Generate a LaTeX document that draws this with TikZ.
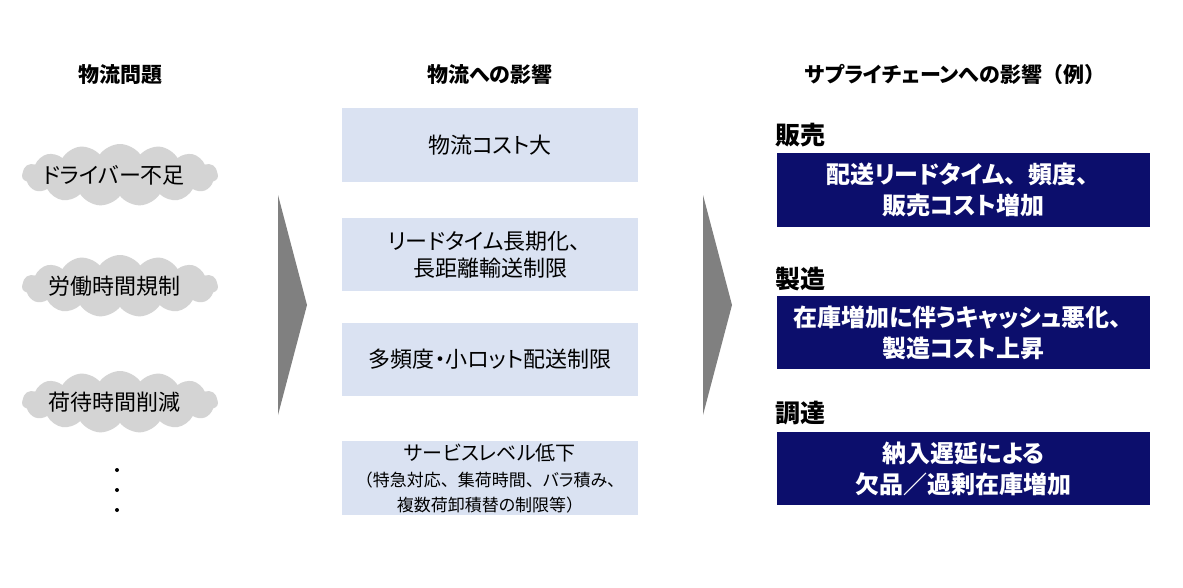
\documentclass[tikz,border=0pt]{standalone}
\usepackage{fontspec}
\setmainfont[RawFeature=+palt]{Noto Sans CJK JP}
\newfontfamily\jpfull{Noto Sans CJK JP}
\newcommand{\jtn}{{\jpfull 、}}
\newcommand{\jlp}{{\jpfull （}}
\newcommand{\jrp}{{\jpfull ）}}
\usetikzlibrary{shapes.symbols}
\definecolor{navybox}{RGB}{12,14,108}
\definecolor{lightbox}{RGB}{218,226,242}
\definecolor{cloudgray}{RGB}{212,212,212}
\definecolor{arrowgray}{RGB}{128,128,128}
\begin{document}
\begin{tikzpicture}[x=1pt,y=-1pt,
  header/.style={font=\bfseries\fontsize{21}{25}\selectfont, inner sep=0pt},
  cloudshape/.style={cloud, cloud puffs=15, cloud puff arc=110, aspect=3.2,
    fill=cloudgray, draw=none, minimum width=196pt, minimum height=62pt,
    inner sep=0pt},
  cloudtext/.style={inner sep=0pt, font=\fontsize{22}{26}\selectfont},
  effbox/.style={rectangle, fill=lightbox, minimum width=296pt, inner sep=0pt,
    align=center, font=\fontsize{22}{27}\selectfont},
  scbox/.style={rectangle, fill=navybox, text=white, minimum width=373pt,
    minimum height=74pt, inner sep=0pt, align=center,
    font=\bfseries\fontsize{24}{31}\selectfont},
  sclabel/.style={anchor=west, inner sep=0pt, font=\bfseries\fontsize{25}{28}\selectfont},
  dotmark/.style={circle, fill=black, inner sep=0pt, minimum size=4pt}
]
\useasboundingbox (0,0) rectangle (1183,587);
\fill[white] (0,0) rectangle (1183,587);

% headers
\node[header] (h1) at (120,75) {物流問題};
\node[header] (h2) at (490,75) {物流への影響};
\node[header] (h3) at (955,74) {サプライチェーンへの影響\jlp 例\jrp};

% clouds
\node[cloudshape] (c1bg) at (120,175) {};
\node[cloudtext] (c1) at (114,175) {ドライバー不足};
\node[cloudshape] (c2bg) at (120,286) {};
\node[cloudtext] (c2) at (114,286) {労働時間規制};
\node[cloudshape] (c3bg) at (120,402) {};
\node[cloudtext] (c3) at (114,402) {荷待時間削減};
\node[dotmark] (d1) at (117,470) {};
\node[dotmark] (d2) at (117,490) {};
\node[dotmark] (d3) at (117,510) {};

% arrows
\fill[arrowgray] (278,195) -- (307,305) -- (278,415) -- cycle;
\fill[arrowgray] (703,195) -- (732,305) -- (703,415) -- cycle;

% effects
\node[effbox, minimum height=74pt] (e1) at (490,145) {物流コスト大};
\node[effbox, minimum height=73pt] (e2) at (490,254.5) {リードタイム長期化\jtn\\長距離輸送制限};
\node[effbox, minimum height=73pt] (e3) at (490,359.5) {多頻度・小ロット配送制限};
\node[effbox, minimum height=74pt] (e4) at (490,478)
  {{\fontsize{20}{23}\selectfont サービスレベル低下}\\[-1pt]
   {\fontsize{17}{20}\selectfont \jlp 特急対応\jtn 集荷時間\jtn バラ積み\jtn}\\[-2pt]
   {\fontsize{17}{20}\selectfont 複数荷卸積替の制限等\jrp}};

% supply chain
\node[sclabel] (l1) at (775,135) {販売};
\node[scbox] (s1) at (963.5,190) {配送リードタイム\jtn 頻度\jtn\\販売コスト増加};
\node[sclabel] (l2) at (775,279) {製造};
\node[scbox, minimum height=73pt] (s2) at (963.5,332.5) {在庫増加に伴うキャッシュ悪化\jtn\\製造コスト上昇};
\node[sclabel] (l3) at (775,413) {調達};
\node[scbox, minimum height=73pt] (s3) at (963.5,468.5) {納入遅延による\\欠品／過剰在庫増加};
\end{tikzpicture}
\end{document}
